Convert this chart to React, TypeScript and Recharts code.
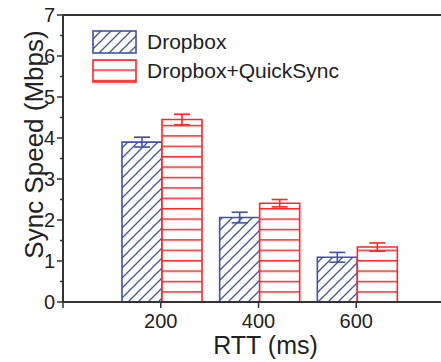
import { Bar, BarChart, ErrorBar, Legend, XAxis, YAxis } from "recharts";

// RTT setting (ms)
const rtts = [200, 400, 600];
// sync speed in Mbps, with error half-widths
const dropbox = [3.9, 2.06, 1.09];
const dropboxErr = [0.12, 0.13, 0.12];
const quickSync = [4.45, 2.41, 1.34];
const quickSyncErr = [0.13, 0.09, 0.1];

const yTicks = [0, 0.5, 1, 1.5, 2, 2.5, 3, 3.5, 4, 4.5, 5, 5.5, 6, 6.5, 7];
const xTicks = [0, 200, 400, 600, 800];

const BLUE = "#3f52a6";
const RED = "#ff2626";
const AXIS = "#333";
const FONT = "'Liberation Sans', Arial, sans-serif";

const data = rtts.map((rtt, i) => ({
  name: String(rtt),
  rtt,
  dropbox: dropbox[i],
  dropboxErr: dropboxErr[i],
  quickSync: quickSync[i],
  quickSyncErr: quickSyncErr[i],
}));

function Patterns() {
  return (
    <defs>
      <pattern id="hatchBlue" patternUnits="userSpaceOnUse" width={10} height={10}>
        <path d="M-1,1 l2,-2 M0,10 l10,-10 M9,11 l2,-2" stroke={BLUE} strokeWidth={1.3} />
      </pattern>
      <pattern id="stripeRed" patternUnits="userSpaceOnUse" width={10} height={10.4}>
        <rect width={10} height={10.4} fill="#fff" />
        <line x1={0} x2={10} y1={0.75} y2={0.75} stroke={RED} strokeWidth={1.5} />
      </pattern>
    </defs>
  );
}

// major ticks get a label and a longer mark, half steps only a short mark
function YTick(props: any) {
  const { x, y, payload } = props;
  const v = payload.value;
  const major = Number.isInteger(v);
  const ax = x + 8;
  return (
    <g>
      <line x1={ax - (major ? 6 : 3)} x2={ax} y1={y} y2={y} stroke={AXIS} strokeWidth={1.5} />
      {major && (
        <text x={x} y={y} dy={7} textAnchor="end" fontSize={20} fill="#222" fontFamily={FONT}>
          {v}
        </text>
      )}
    </g>
  );
}

function LegendBox() {
  const items = [
    { label: "Dropbox", fill: "url(#hatchBlue)", stroke: BLUE },
    { label: "Dropbox+QuickSync", fill: "url(#stripeRed)", stroke: RED },
  ];
  return (
    <div style={{ fontFamily: FONT }}>
      {items.map((it) => (
        <div key={it.label} style={{ display: "flex", alignItems: "center", height: 29 }}>
          <svg width={45} height={24} style={{ display: "block" }}>
            <rect x={1} y={1} width={43} height={22} fill={it.fill} stroke={it.stroke} strokeWidth={1.6} />
          </svg>
          <span style={{ marginLeft: 10, fontSize: 21, color: "#222", lineHeight: "24px" }}>
            {it.label}
          </span>
        </div>
      ))}
    </div>
  );
}

export default function App() {
  return (
    <div
      style={{
        position: "absolute",
        left: 0,
        top: 0,
        width: 441,
        height: 362,
        overflow: "hidden",
        background: "#fff",
      }}
    >
      <BarChart
        width={472}
        height={362}
        data={data}
        margin={{ top: 15, right: 18, bottom: 0, left: 0 }}
        barGap={0}
        barSize={40}
        style={{ fontFamily: FONT }}
      >
        <Patterns />
        <XAxis xAxisId="cat" dataKey="name" hide height={0} padding={{ left: 50, right: 48 }} />
        <XAxis
          xAxisId="num"
          type="number"
          dataKey="rtt"
          domain={[0, 800]}
          ticks={xTicks}
          height={60}
          tickSize={6}
          tickMargin={6}
          tickFormatter={(v) => (v === 0 || v === 800 ? "" : String(v))}
          axisLine={{ stroke: AXIS, strokeWidth: 2 }}
          tickLine={{ stroke: AXIS, strokeWidth: 1.5 }}
          tick={{ fill: "#222", fontSize: 20, fontFamily: FONT }}
          label={{
            value: "RTT (ms)",
            position: "insideBottom",
            offset: 8,
            dx: 7,
            fontSize: 25,
            fill: "#222",
            fontFamily: FONT,
          }}
        />
        <XAxis
          xAxisId="top"
          orientation="top"
          type="number"
          dataKey="rtt"
          domain={[0, 800]}
          ticks={xTicks}
          height={1}
          mirror
          tick={false}
          tickSize={7}
          axisLine={{ stroke: AXIS, strokeWidth: 2 }}
          tickLine={{ stroke: AXIS, strokeWidth: 1.5 }}
        />
        <YAxis
          domain={[0, 7]}
          ticks={yTicks}
          interval={0}
          width={63}
          tickSize={6}
          tickMargin={2}
          tickLine={false}
          axisLine={{ stroke: AXIS, strokeWidth: 2 }}
          tick={<YTick />}
          label={{
            value: "Sync Speed (Mbps)",
            angle: -90,
            position: "center",
            dx: 2,
            dy: -14,
            fontSize: 26,
            fill: "#222",
            fontFamily: FONT,
          }}
        />
        <Legend
          layout="horizontal"
          verticalAlign="middle"
          align="center"
          wrapperStyle={{ left: 92, top: 27, width: "auto", height: "auto" }}
          content={() => <LegendBox />}
        />
        <Bar
          xAxisId="cat"
          dataKey="dropbox"
          fill="url(#hatchBlue)"
          stroke={BLUE}
          strokeWidth={1.6}
          isAnimationActive={false}
        >
          <ErrorBar dataKey="dropboxErr" width={8} stroke={BLUE} strokeWidth={1.6} />
        </Bar>
        <Bar
          xAxisId="cat"
          dataKey="quickSync"
          fill="url(#stripeRed)"
          stroke={RED}
          strokeWidth={1.6}
          isAnimationActive={false}
        >
          <ErrorBar dataKey="quickSyncErr" width={8} stroke={RED} strokeWidth={1.6} />
        </Bar>
      </BarChart>
    </div>
  );
}
